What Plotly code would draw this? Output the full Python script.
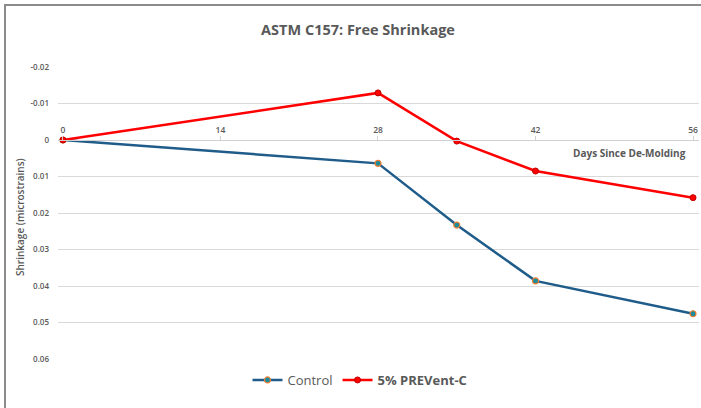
import plotly.graph_objects as go

days = [0, 28, 35, 42, 56]
control = [0, 0.0064, 0.0233, 0.0386, 0.0476]
prevent = [0, -0.0129, 0.0003, 0.0085, 0.0158]

x_ticks = [0, 14, 28, 42, 56]
y_ticks = [-0.02, -0.01, 0, 0.01, 0.02, 0.03, 0.04, 0.05, 0.06]
y_ticktext = ["-0.02", "-0.01", "0", "0.01", "0.02", "0.03", "0.04", "0.05", "0.06"]

FONT = "Open Sans"
GRAY = "#595959"

fig = go.Figure()
fig.add_trace(go.Scatter(
    x=days, y=control, mode="lines+markers", name="Control",
    line=dict(color="#1F5C8A", width=2.5),
    marker=dict(size=6, color="#1A8C9C", line=dict(color="#ED7D31", width=1.2)),
))
fig.add_trace(go.Scatter(
    x=days, y=prevent, mode="lines+markers", name="<b>5% PREVent-C</b>",
    line=dict(color="#FF0000", width=2.5),
    marker=dict(size=6, color="#FF0000", line=dict(color="#C00000", width=1)),
))

W, H = 701, 408
L, R, T, B = 58, 2, 67, 49
pw, ph = W - L - R, H - T - B

def px(xp):
    return (xp - L) / pw

def py(yp):
    return (H - B - yp) / ph

fig.update_layout(
    width=W, height=H,
    margin=dict(l=L, r=R, t=T, b=B),
    paper_bgcolor="white", plot_bgcolor="white",
    font=dict(family=FONT, color=GRAY),
    title=dict(text="<b>ASTM C157: Free Shrinkage</b>", x=px(358), xref="paper", xanchor="center",
               y=1 - 30 / H, yanchor="middle", font=dict(size=14.5, color=GRAY, family=FONT)),
    showlegend=True,
    legend=dict(orientation="h", x=px(360), xanchor="center", y=py(380), yanchor="middle",
                font=dict(size=13, color=GRAY, family=FONT), bgcolor="rgba(0,0,0,0)"),
    xaxis=dict(
        range=[-0.44, 56.53], tickvals=x_ticks, ticktext=[str(v) for v in x_ticks],
        showgrid=False, zeroline=False,
        anchor="free", position=0.75, side="top",
        showline=True, linecolor="#D0D0D0", linewidth=1,
        ticks="outside", ticklen=4, tickcolor="#D0D0D0",
        tickfont=dict(size=8.5, color=GRAY, family=FONT, weight=600),
    ),
    yaxis=dict(
        range=[0.06, -0.02], tickvals=y_ticks, ticktext=y_ticktext,
        showgrid=True, gridcolor="#D9D9D9", gridwidth=1,
        zeroline=False, showline=False,
        ticks="", ticklabelstandoff=8,
        tickfont=dict(size=8, color=GRAY, family=FONT, weight=600),
    ),
    shapes=[dict(type="rect", xref="paper", yref="paper",
                 x0=px(5), x1=px(760), y0=py(470), y1=py(5),
                 line=dict(color="#8C8C8C", width=2), fillcolor="rgba(0,0,0,0)", layer="below")],
    annotations=[
        dict(text="<b>Days Since De-Molding</b>", xref="paper", yref="paper",
             x=px(688), y=py(153), xanchor="right", yanchor="middle", showarrow=False,
             font=dict(size=10, color=GRAY, family=FONT)),
        dict(text="Shrinkage (microstrains)", xref="paper", yref="paper",
             x=px(20), y=py(217), xanchor="center", yanchor="middle", showarrow=False,
             textangle=-90, font=dict(size=10, color=GRAY, family=FONT, weight=600)),
    ],
)

fig.write_html("out.html", config={"displayModeBar": False},
               post_script="document.body.style.margin='0';document.body.style.padding='0';")
